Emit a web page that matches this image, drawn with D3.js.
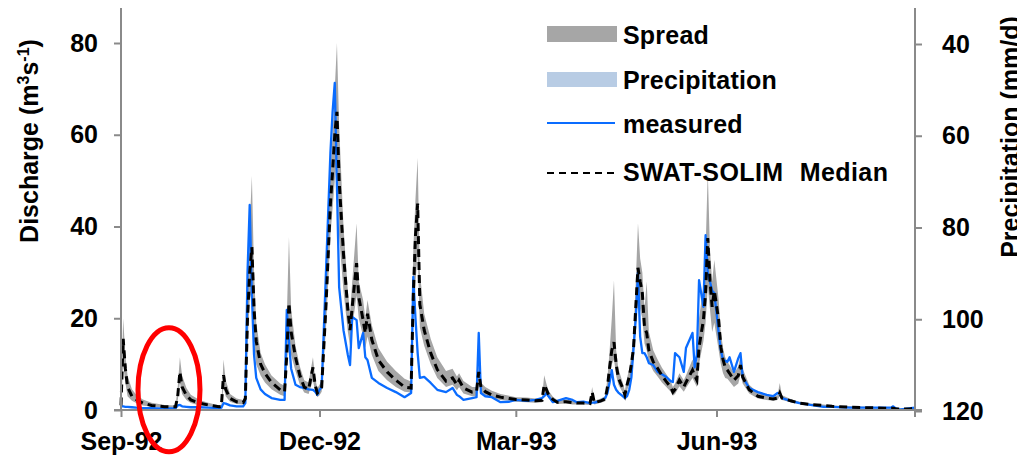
<!DOCTYPE html>
<html>
<head>
<meta charset="utf-8">
<script src="https://cdn.jsdelivr.net/npm/d3@7"></script>
<style>
body{margin:0;background:#fff;}
svg{display:block;font-family:"Liberation Sans",Arial,sans-serif;font-weight:bold;}
</style>
</head>
<body>
<div id="chart"></div>
<script>
// days counted from 1 Sep 1992
var startDate = new Date(1992, 8, 1);
var dayIndex = [0,1,2,3,5,7,10,14,20,25,
    26,27,28,30,32,36,40,45,46,47,
    48,50,53,56,57,58,59,60,61,62,
    64,66,69,73,75,76,77,78,80,82,
    84,86,88,89,90,91,92,94,96,97,
    98,99,100,102,104,105,106,108,109,111,
    112,113,115,118,122,126,130,133,134,135,
    136,137,139,142,145,149,152,154,155,157,
    161,163,164,165,167,170,174,178,181,186,
    190,193,194,195,196,198,200,204,207,209,
    212,215,216,217,220,222,223,224,225,226,
    227,228,230,231,232,233,234,235,236,237,
    238,239,240,241,242,244,246,248,250,252,
    253,254,256,258,259,262,263,264,265,267,
    268,269,270,271,272,274,275,276,277,278,
    279,281,283,284,285,288,292,296,299,301,
    302,303,307,311,316,322,326,334,342,350,
    353,354,355,357,362,364];
var measured = [0.8,0.8,0.7,0.7,0.6,0.5,0.4,0.4,0.3,0.4,
    1.0,1.1,0.8,0.7,0.6,0.6,0.5,0.4,0.5,1.5,
    1.4,1.0,0.8,0.8,1.5,30,44.7,25,12,7,
    4.5,3.5,2.6,2.2,2.2,21.8,15,9,5.5,5,
    4.8,4.5,4.4,4.0,3.3,4.4,5,30.5,56,65,
    71.3,48.6,26.8,17.4,12,9.8,20.3,19.6,13.5,16.8,
    11.5,10.9,7,5.9,4.8,3.9,2.8,3.7,29,20,
    12.4,7,7.2,5.9,4.4,3.9,4.8,3.3,3.0,2.2,
    2.6,2.8,16.8,3.7,3.0,2.8,1.7,1.8,2.2,2.0,
    2.2,2.6,3.0,3.7,3.0,1.7,2.0,2.6,2.2,1.7,
    1.8,1.5,1.6,1.6,2.0,2.6,3.7,6,8.7,5.5,
    4.4,3.8,3.0,2.6,3.0,4.4,7.2,13.7,20,30,
    16,12.4,12.4,11.5,10.2,9.8,8.3,7.8,7.2,6.3,
    6.1,12.4,11.5,8.3,13.5,16.8,9.3,12,28.3,22.5,
    38.1,29.8,28,26,25.5,16.8,13,10.9,10.7,10.5,
    11.5,8.3,11.3,12.4,7.2,4.8,3.9,3.3,3.0,3.7,
    3.5,2.6,2.0,1.5,1.1,0.7,0.7,0.5,0.5,0.5,
    0.5,0.8,0.4,0.1,0.4,0.5];
var median = [1,15.5,9,5,3,2.3,1.5,1.0,0.7,0.7,
    3,8.3,5,3.2,2.2,1.5,1.1,0.7,0.8,7.6,
    4.5,2.5,1.8,1.6,2.5,20,30,35.5,22,15,
    10,8,6,4.4,4.0,12,23.3,17,11.5,7.5,
    5,4.5,9.3,5.5,3.7,4.2,5,23,45,52,
    60,65,50,34,21.8,17.4,22.5,32,24.6,19.6,
    16.8,21,15.3,10.9,8.3,6.5,5,4.8,25,38,
    45,23,17.4,12.4,8.8,6.3,7,5.5,6.5,4.8,
    3.9,4,8.3,5,4,3.3,2.8,2.5,2.3,2.2,
    2.0,2.1,5.5,4.5,3.3,2.3,1.7,1.8,1.6,1.5,
    1.5,1.4,3.9,1.6,2.0,2.4,5,9.3,13,14.8,
    10,7,4.8,3.3,5.5,7.2,10,13.7,22.5,31,
    28,25.5,18,16.8,13,10.5,9.1,7.5,6.2,5,
    3.9,4.5,6.5,5,6,8.7,7.5,6.5,13.7,19.6,
    25.5,37.5,28.3,22.5,26,19.6,13.7,11,9.3,8.7,
    8,6.5,7.5,9.8,7.2,4.4,3,2.6,2.4,2.6,
    3.7,2.6,2.0,1.5,1.2,1.0,0.8,0.6,0.5,0.4,
    0.4,0.4,0.3,0.2,0.3,0.4];
var spreadLow = [0.5,10,6,3,2,1.5,1,0.7,0.5,0.5,
    2,6,3.5,2.2,1.5,1,0.8,0.5,0.5,5,
    3,1.8,1.3,1.2,1.8,14,24,26,15,10,
    7.5,6,4.5,3.3,3,9,17,12,8.5,5.5,
    3.8,3.5,6.5,4,2.8,3.2,4,18,38,44,
    50,56,38,26,17,14,18,25,20,16,
    13.5,16,12,8.5,6.5,5,4,3.8,18,28,
    34,18,14,10,7,5,5.5,4.3,5,3.6,
    3,3.1,6.5,4,3.2,2.6,2.2,2,1.8,1.7,
    1.6,1.7,4,3.5,2.6,1.8,1.3,1.4,1.2,1.2,
    1.2,1.1,2.5,1.2,1.6,1.9,3.5,7,10,11,
    7.5,5.5,3.8,2.6,4.2,5.8,8,11,18,24,
    22,20,14.5,13,10.5,8.5,7.3,6,5,4,
    3.1,3.5,5.2,4,4.8,7,6,5,10,15,
    19,27,22,17,19,13,10,8,7,6.8,
    6.2,5,5.8,7.8,5.8,3.6,2.5,2.2,2,2.2,
    3,2.2,1.7,1.3,1.0,0.8,0.7,0.5,0.4,0.3,
    0.3,0.3,0.2,0.1,0.2,0.3];
var spreadHigh = [2,20,12,7.5,4.5,3.3,2.3,1.6,1.1,1.0,
    5,11.5,7.5,4.8,3.3,2.2,1.6,1.0,1.2,11,
    6.5,3.5,2.5,2.2,3.5,26,40,51,30,19,
    12.5,10,7.5,5.8,5.3,20,37.7,22,14,9.5,
    6.5,6,11.5,7,4.8,5.5,6.5,28,52,60,
    70,80,62,40,26,21,28,40.7,28,24,
    20,24,18.5,13.5,10.5,8.5,6.8,6.2,35,46,
    55,30,21,15.5,11.5,8.5,9,7.3,8,6.3,
    5,5,9.5,6,5,4.2,3.5,3.1,2.8,2.7,
    2.5,2.6,7.6,5.8,4.2,2.9,2.2,2.3,2.0,1.9,
    1.9,1.8,5,2.0,2.5,3,7,13,20,28.3,
    13,9,6,4.2,7,9,12,17,28,40.7,
    33,30,22,28,17,13,11,9.2,7.8,6.3,
    5,5.8,8,6.5,7.5,11,9.5,9,20,27,
    35,52,35,28,32.7,24,17,13.5,11.5,10.5,
    9.8,8,9.5,12,9,5.5,3.7,3.2,2.9,3.2,
    5.9,3.2,2.4,1.8,1.4,1.2,1.0,0.8,0.7,0.6,
    0.5,0.5,0.5,0.4,0.4,0.5];
var monthTicks = [new Date(1992,8,1), new Date(1992,11,1), new Date(1993,2,1), new Date(1993,5,1)];
var dischargeTicks = [0,20,40,60,80];
var precipTicks = [40,60,80,100,120];
var legendLabels = ["Spread","Precipitation","measured","SWAT-SOLIM Median"];

function init(){
    var w = 1017;
    var h = 459;
    var axisColor = "#8a8a8a";

    var svg = d3.select("#chart")
            .append("svg")
            .attr("width", w)
            .attr("height", h);

    var xScale = d3.scaleTime()
        .domain([startDate, d3.timeDay.offset(startDate, 364)])
        .range([121, 915]);
    var yScale = d3.scaleLinear()
        .domain([0, 80])
        .range([410, 43]);
    var pScale = d3.scaleLinear()
        .domain([120, 40])
        .range([411, 44]);

    var rows = dayIndex.map(function(d, i){
        return {date: d3.timeDay.offset(startDate, d), m: measured[i], md: median[i], lo: spreadLow[i], hi: spreadHigh[i]};
    });

    // spread band
    var band = d3.area()
        .x(function(d){ return xScale(d.date); })
        .y0(function(d){ return yScale(d.lo); })
        .y1(function(d){ return yScale(d.hi); });
    svg.append("path")
        .datum(rows)
        .attr("d", band)
        .attr("fill", "#a6a6a6");

    var measLine = d3.line()
        .x(function(d){ return xScale(d.date); })
        .y(function(d){ return yScale(d.m); });
    svg.append("path")
        .datum(rows)
        .attr("d", measLine)
        .attr("fill", "none")
        .attr("stroke", "#0a6cff")
        .attr("stroke-width", 2.3)
        .attr("stroke-linejoin", "round");

    var medLine = d3.line()
        .x(function(d){ return xScale(d.date); })
        .y(function(d){ return yScale(d.md); });
    svg.append("path")
        .datum(rows)
        .attr("d", medLine)
        .attr("fill", "none")
        .attr("stroke", "#000")
        .attr("stroke-width", 3)
        .attr("stroke-dasharray", "8,5");

    // axes
    var left = svg.append("g")
        .attr("transform", "translate(121,0)")
        .call(d3.axisLeft(yScale).tickValues(dischargeTicks).tickSize(7).tickSizeOuter(0).tickPadding(16));
    var right = svg.append("g")
        .attr("transform", "translate(915,0)")
        .call(d3.axisRight(pScale).tickValues(precipTicks).tickSize(7).tickSizeOuter(0).tickPadding(20));
    var bottom = svg.append("g")
        .attr("transform", "translate(0,410)")
        .call(d3.axisBottom(xScale).tickValues(monthTicks).tickSize(7).tickSizeOuter(0).tickPadding(15)
            .tickFormat(d3.timeFormat("%b-%y")));

    [left, right, bottom].forEach(function(g){
        g.select(".domain").remove();
        g.selectAll("line").attr("stroke", axisColor).attr("stroke-width", 2);
        g.selectAll("text")
            .attr("fill", "#000")
            .style("font-size", "25px")
            .style("font-weight", "bold")
            .style("font-family", "'Liberation Sans', Arial, sans-serif");
    });

    svg.append("line").attr("x1", 121).attr("x2", 121).attr("y1", 8).attr("y2", 410)
        .attr("stroke", axisColor).attr("stroke-width", 2);
    svg.append("line").attr("x1", 915).attr("x2", 915).attr("y1", 8).attr("y2", 417)
        .attr("stroke", axisColor).attr("stroke-width", 2);
    svg.append("line").attr("x1", 114).attr("x2", 922).attr("y1", 410).attr("y2", 410)
        .attr("stroke", axisColor).attr("stroke-width", 2);

    // axis titles
    var yTitle = svg.append("text")
        .attr("transform", "translate(38,141) rotate(-90)")
        .attr("text-anchor", "middle")
        .style("font-size", "25px");
    yTitle.append("tspan").text("Discharge (m");
    yTitle.append("tspan").attr("dy", -9).style("font-size", "16px").text("3");
    yTitle.append("tspan").attr("dy", 9).text("s");
    yTitle.append("tspan").attr("dy", -9).style("font-size", "16px").text("-1");
    yTitle.append("tspan").attr("dy", 9).text(")");

    // right title is cut by the right edge, as in the original figure
    svg.append("text")
        .attr("transform", "translate(1019,137) rotate(-90)")
        .attr("text-anchor", "middle")
        .style("font-size", "25px")
        .text("Precipitation (mm/d)");

    // legend
    var lg = svg.append("g");
    lg.append("rect").attr("x", 547).attr("y", 26).attr("width", 70).attr("height", 16).attr("fill", "#a6a6a6");
    lg.append("rect").attr("x", 547).attr("y", 72).attr("width", 70).attr("height", 15).attr("fill", "#b8cce4");
    lg.append("line").attr("x1", 547).attr("x2", 615).attr("y1", 123).attr("y2", 123)
        .attr("stroke", "#0a6cff").attr("stroke-width", 2);
    lg.append("line").attr("x1", 547).attr("x2", 615).attr("y1", 173).attr("y2", 173)
        .attr("stroke", "#000").attr("stroke-width", 2).attr("stroke-dasharray", "7,5");
    lg.selectAll("text.leg")
        .data(legendLabels)
        .enter()
        .append("text")
        .attr("class", "leg")
        .attr("x", 623)
        .attr("y", function(d, i){ return [44, 89, 133, 181][i]; })
        .style("font-size", "25px")
        .style("word-spacing", "9px")
        .style("letter-spacing", function(d, i){ return i == 3 ? "0.4px" : "0.2px"; })
        .text(function(d){ return d; });

    // red highlight ellipse
    svg.append("ellipse")
        .attr("cx", xScale(d3.timeDay.offset(startDate, 22.6)))
        .attr("cy", yScale(4.4))
        .attr("rx", 31)
        .attr("ry", 62)
        .attr("fill", "none")
        .attr("stroke", "#ff0000")
        .attr("stroke-width", 5);
}
window.onload = init;
</script>
</body>
</html>
